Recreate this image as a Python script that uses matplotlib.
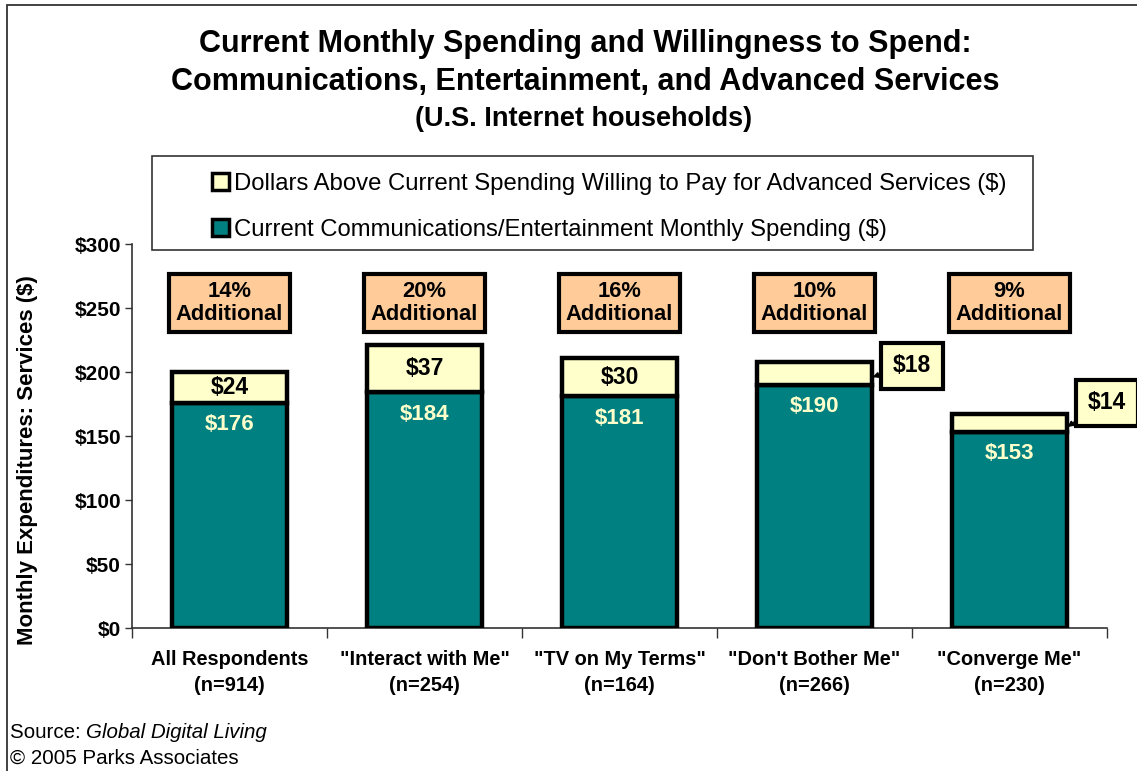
import matplotlib
matplotlib.use("Agg")
import matplotlib.pyplot as plt
from matplotlib.patches import Patch, Rectangle
import numpy as np

plt.rcParams['font.family'] = ['Liberation Sans', 'DejaVu Sans']

categories = ['All Respondents\n(n=914)', '"Interact with Me"\n(n=254)', '"TV on My Terms"\n(n=164)',
              '"Don\'t Bother Me"\n(n=266)', '"Converge Me"\n(n=230)']
current = [176, 184, 181, 190, 153]
additional = [24, 37, 30, 18, 14]
pct_additional = [14, 20, 16, 10, 9]
yticks = [0, 50, 100, 150, 200, 250, 300]

TEAL = '#008080'
CREAM = '#FFFFCC'
ORANGE = '#FFCC99'

W, H = 1137, 771
fig = plt.figure(figsize=(W / 100, H / 100), dpi=100)
ax = fig.add_axes([132 / W, 1 - 628 / H, (1107 - 132) / W, (628 - 244) / H])

x = np.arange(len(categories))
bw = 0.585
ax.bar(x, current, width=bw, color=TEAL, edgecolor='black', linewidth=3.2, zorder=3,
       label='Current Communications/Entertainment Monthly Spending ($)')
ax.bar(x, additional, bottom=current, width=bw, color=CREAM, edgecolor='black', linewidth=3.2, zorder=3,
       label='Dollars Above Current Spending Willing to Pay for Advanced Services ($)')

ax.set_xlim(-0.5, len(categories) - 0.5)
ax.set_ylim(0, 300)
ax.set_yticks(yticks)
ax.set_yticklabels([f'${v}' for v in yticks], fontsize=15, fontweight='bold')
ax.set_xticks(x)
ax.set_xticklabels(categories, fontsize=14.4, fontweight='bold', linespacing=1.45)
ax.set_xticks(np.arange(len(categories) + 1) - 0.5, minor=True)
ax.tick_params(axis='x', which='major', length=0, pad=16)
ax.tick_params(axis='x', which='minor', length=7, width=1, color='#333333', direction='out')
ax.tick_params(axis='y', length=5, width=1, color='#333333', pad=3)
for s in ['top', 'right']:
    ax.spines[s].set_visible(False)
for s in ['left', 'bottom']:
    ax.spines[s].set_color('#333333')
    ax.spines[s].set_linewidth(1.2)

ax.set_ylabel('Monthly Expenditures: Services ($)', fontsize=16, fontweight='bold')
ax.yaxis.set_label_coords((38 - 132) / 975, 0.4375)

# Value labels
for i, (c, a) in enumerate(zip(current, additional)):
    ax.text(i, c - 17, f'${c}', ha='center', va='center', color=CREAM,
            fontsize=16, fontweight='bold', zorder=5)
    if a >= 20:
        ax.text(i, c + a / 2, f'${a}', ha='center', va='center', color='black',
                fontsize=16.5, fontweight='bold', zorder=5)
    else:
        ty = c + a / 2 + (6 if i == 3 else 16)
        rp = 0.31 if i == 3 else 0.1
        ax.annotate(f'${a}', xy=(i + bw / 2 + 0.005, c + a / 2 - 3), xytext=(i + 0.5, ty),
                    ha='center', va='center', fontsize=16.5, fontweight='bold', zorder=6,
                    annotation_clip=False,
                    bbox=dict(boxstyle='square,pad=0.5', facecolor=CREAM, edgecolor='black', linewidth=3),
                    arrowprops=dict(arrowstyle='-|>', color='black', lw=1.2, mutation_scale=8,
                                    relpos=(0, rp), shrinkA=0, shrinkB=0))
    ax.text(i, 254, f'{pct_additional[i]}%\nAdditional', ha='center', va='center',
            fontsize=15.8, fontweight='bold', linespacing=1.15, zorder=5,
            bbox=dict(boxstyle='square,pad=0.3', facecolor=ORANGE, edgecolor='black', linewidth=3))

# Legend
fig.patches.append(Rectangle((152 / W, 1 - 250 / H), (1033 - 152) / W, (250 - 156) / H,
                             transform=fig.transFigure, facecolor='white', edgecolor='#333333',
                             linewidth=1.2, zorder=10))
h_cur = Patch(facecolor=TEAL, edgecolor='black', linewidth=2.5)
h_add = Patch(facecolor=CREAM, edgecolor='black', linewidth=2.5)
leg = fig.legend([h_add, h_cur],
                 ['Dollars Above Current Spending Willing to Pay for Advanced Services ($)',
                  'Current Communications/Entertainment Monthly Spending ($)'],
                 loc='upper left', bbox_to_anchor=(212 / W, 1 - 173 / H), frameon=False,
                 fontsize=17.2, handlelength=0.7, handleheight=0.7, handletextpad=0.2,
                 labelspacing=1.0, borderpad=0, borderaxespad=0)
leg.set_zorder(11)

# Titles
fig.text(585 / W, 1 - 44 / H, 'Current Monthly Spending and Willingness to Spend:', ha='center', va='center',
         fontsize=22, fontweight='bold')
fig.text(585 / W, 1 - 82 / H, 'Communications, Entertainment, and Advanced Services', ha='center', va='center',
         fontsize=22, fontweight='bold')
fig.text(584 / W, 1 - 119 / H, '(U.S. Internet households)', ha='center', va='center',
         fontsize=19.5, fontweight='bold')

# Source
t1 = fig.text(10 / W, 1 - 733 / H, 'Source: ', ha='left', va='center', fontsize=14.8)
ax.annotate('Global Digital Living', xy=(1, 0.5), xycoords=t1, ha='left', va='center',
            fontsize=14.8, style='italic', annotation_clip=False)
fig.text(10 / W, 1 - 758 / H, '\u00a9 2005 Parks Associates', ha='left', va='center', fontsize=14.8)

# Outer frame
fig.patches.append(Rectangle((7 / W, -0.05), 1.1, 1 - 5 / H + 0.05, transform=fig.transFigure,
                             facecolor='none', edgecolor='#333333', linewidth=1.3, zorder=0))

fig.savefig('out.png', dpi=100)
